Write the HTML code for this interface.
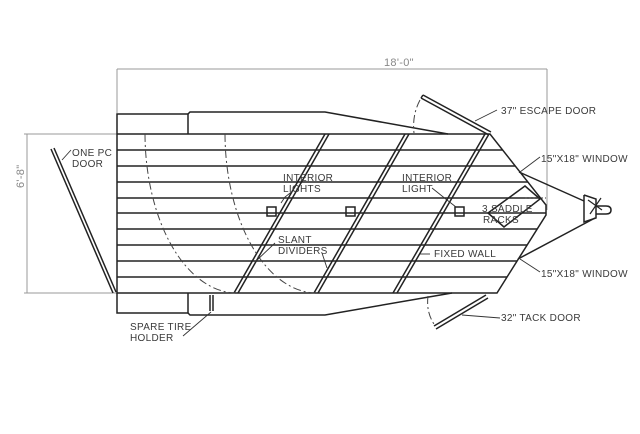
<!DOCTYPE html>
<html><head><meta charset="utf-8"><style>
html,body{margin:0;padding:0;background:#fff;}
svg{display:block;}
text{font-family:"Liberation Sans",sans-serif;font-size:10px;fill:#3a3a3a;letter-spacing:0.3px;}
</style></head><body>
<svg width="640" height="434" viewBox="0 0 640 434" xmlns="http://www.w3.org/2000/svg">
<rect width="640" height="434" fill="#fff"/>
<!-- dimensions -->
<g stroke="#999" stroke-width="1" fill="none">
<line x1="117" y1="69" x2="547" y2="69"/>
<line x1="117" y1="69" x2="117" y2="113"/>
<line x1="547" y1="69" x2="547" y2="210"/>
<line x1="27" y1="134" x2="27" y2="293"/>
<line x1="24" y1="134" x2="117" y2="134"/>
<line x1="24" y1="293" x2="117" y2="293"/>
</g>
<text x="384" y="66" style="font-size:11px;fill:#888">18'-0"</text>
<text x="0" y="0" transform="translate(24,188) rotate(-90)" style="font-size:11px;fill:#888">6'-8"</text>
<!-- floor slats -->
<defs><clipPath id="fl"><polygon points="117,134 490,134 546,205 546,215 497,293 117,293"/></clipPath></defs>
<g stroke="#222" stroke-width="1.5" clip-path="url(#fl)">
<line x1="117" y1="150" x2="600" y2="150"/><line x1="117" y1="166" x2="600" y2="166"/>
<line x1="117" y1="182" x2="600" y2="182"/><line x1="117" y1="198" x2="600" y2="198"/>
<line x1="117" y1="213" x2="600" y2="213"/><line x1="117" y1="229" x2="600" y2="229"/>
<line x1="117" y1="245" x2="600" y2="245"/><line x1="117" y1="261" x2="600" y2="261"/>
<line x1="117" y1="277" x2="600" y2="277"/>
</g>
<g stroke="#222" stroke-width="1.5" fill="none">
<polyline points="117,134 490,134 546,205 546,215 497,293 117,293 117,134"/>
<!-- top strip -->
<polyline points="117,134 117,114 188,114 188,134"/>
<polyline points="188,114 190,112 325,112 448,134"/>
<!-- bottom strip -->
<polyline points="117,293 117,313 188,313 188,293"/>
<polyline points="188,313 190,315 325,315 452,293"/>
<!-- rear door -->
<line x1="51" y1="149" x2="113" y2="293"/><line x1="54" y1="148" x2="116" y2="292"/>
<!-- dividers -->
<line x1="234" y1="293" x2="325" y2="134"/><line x1="238" y1="293" x2="329" y2="134"/>
<line x1="314" y1="293" x2="405" y2="134"/><line x1="318" y1="293" x2="409" y2="134"/>
<line x1="393" y1="293" x2="485" y2="134"/><line x1="397" y1="293" x2="489" y2="134"/>
<!-- escape door -->
<line x1="421" y1="98" x2="489" y2="135"/><line x1="423" y1="95" x2="491" y2="132"/>
<line x1="421" y1="98" x2="423" y2="95"/>
<!-- tack door -->
<line x1="434" y1="326" x2="486" y2="295"/><line x1="436" y1="329" x2="488" y2="298"/>
<!-- tongue -->
<line x1="519" y1="172" x2="584" y2="201"/>
<line x1="518" y1="259" x2="595" y2="218"/>
<!-- coupler -->
<polyline points="584,195 584,222 596,218 596,199 584,195"/>
<path d="M596,206 L606,206 Q611,206 611,210 Q611,214 606,214 L596,214"/>
<!-- saddle racks -->
<polygon points="488,213 525,186 540,199 504,227"/>
<!-- lights -->
<rect x="267" y="207" width="9" height="9"/><rect x="346" y="207" width="9" height="9"/><rect x="455" y="207" width="9" height="9"/>
<!-- spare tire -->
<line x1="210" y1="295" x2="210" y2="311"/><line x1="213" y1="295" x2="213" y2="311"/>
</g>
<line x1="588" y1="200" x2="602" y2="210" stroke="#222" stroke-width="1.2"/>
<line x1="590" y1="214" x2="601" y2="198" stroke="#222" stroke-width="1.2"/>
<line x1="525" y1="198" x2="546" y2="198" stroke="#333" stroke-width="1" stroke-dasharray="2,2"/>
<!-- dash-dot arcs -->
<g stroke="#444" stroke-width="1" fill="none" stroke-dasharray="8,3,2,3">
<path d="M145,134 A92,160 0 0 0 235,293"/>
<path d="M225,134 A92,160 0 0 0 315,293"/>
<path d="M420,100 Q412,115 414,133"/>
<path d="M428,296 Q426,312 434,324"/>
</g>
<!-- leaders -->
<g stroke="#333" stroke-width="0.9" fill="none">
<line x1="71" y1="150" x2="62" y2="160"/>
<line x1="497" y1="110" x2="475" y2="121"/>
<line x1="540" y1="157" x2="520" y2="172"/>
<line x1="540" y1="272" x2="520" y2="259"/>
<line x1="500" y1="318" x2="462" y2="315"/>
<line x1="430" y1="254" x2="420" y2="254"/>
<polyline points="294,190 285,197 281,203"/>
<polyline points="432,188 447,200 456,207"/>
<line x1="275" y1="243" x2="255" y2="262"/>
<line x1="322" y1="253" x2="327" y2="268"/>
<line x1="183" y1="336" x2="211" y2="312"/>
</g>
<!-- labels -->
<text x="72" y="156">ONE PC</text><text x="72" y="167">DOOR</text>
<text x="283" y="181">INTERIOR</text><text x="283" y="192">LIGHTS</text>
<text x="402" y="181">INTERIOR</text><text x="402" y="192">LIGHT</text>
<text x="278" y="243">SLANT</text><text x="278" y="254">DIVIDERS</text>
<text x="434" y="257">FIXED WALL</text>
<text x="482" y="212">3 SADDLE</text><text x="483" y="223">RACKS</text>
<text x="501" y="114">37" ESCAPE DOOR</text>
<text x="541" y="162">15"X18" WINDOW</text>
<text x="541" y="277">15"X18" WINDOW</text>
<text x="501" y="321">32" TACK DOOR</text>
<text x="130" y="330">SPARE TIRE</text><text x="130" y="341">HOLDER</text>
</svg>
</body></html>
